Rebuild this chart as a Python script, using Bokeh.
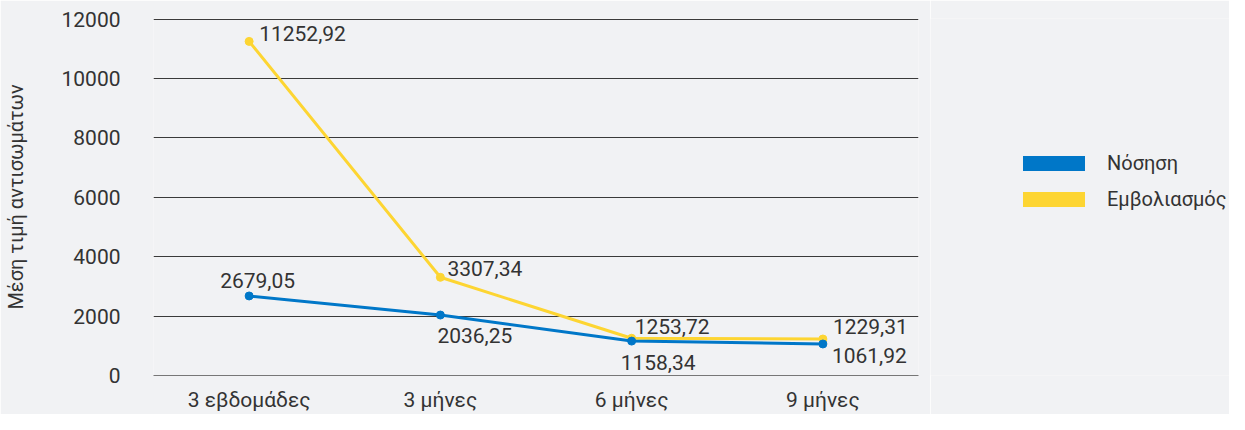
from bokeh.plotting import figure
from bokeh.layouts import row
from bokeh.models import ColumnDataSource, Range1d, FixedTicker, Legend, LegendItem
from bokeh.core.properties import value
from bokeh.embed import file_html
from bokeh.resources import INLINE

categories = ["3 εβδομάδες", "3 μήνες", "6 μήνες", "9 μήνες"]
nosisi = [2679.05, 2036.25, 1158.34, 1061.92]
emvoliasmos = [11252.92, 3307.34, 1253.72, 1229.31]
series_names = ["Νόσηση", "Εμβολιασμός"]
y_ticks = [0, 2000, 4000, 6000, 8000, 10000, 12000]

# label placement (screen px), kept separate from the data
vacc_dx = [10, 7, 3, 10]
vacc_dy = [-8, -9, -12, -13]
dis_dx = [-29, -3, -11, 9]
dis_dy = [-15, 20, 21, 12]

BLUE = "#0077c8"
YELLOW = "#fdd532"
BG = "#f1f2f4"
TXT = "#333333"
FONT = "Roboto"
H = 414


def fmt(v):
    return f"{v:.2f}".replace(".", ",")


p = figure(
    x_range=categories, y_range=Range1d(0, 12000 * 1.002),
    width=930, height=H, output_backend="svg", toolbar_location=None,
    min_border_left=153, min_border_right=12, min_border_top=18, min_border_bottom=38,
    background_fill_color=BG, border_fill_color=BG, outline_line_color=None,
)
p.x_range.range_padding = 0

src_v = ColumnDataSource(dict(x=categories, y=emvoliasmos,
                              t=[fmt(v) for v in emvoliasmos], dx=vacc_dx, dy=vacc_dy))
src_d = ColumnDataSource(dict(x=categories, y=nosisi,
                              t=[fmt(v) for v in nosisi], dx=dis_dx, dy=dis_dy))

p.line("x", "y", source=src_v, line_color=YELLOW, line_width=3)
p.scatter("x", "y", source=src_v, size=8, fill_color=YELLOW, line_color=YELLOW)
p.line("x", "y", source=src_d, line_color=BLUE, line_width=3)
p.scatter("x", "y", source=src_d, size=8, fill_color=BLUE, line_color=BLUE)

for src in (src_v, src_d):
    p.text("x", "y", text="t", source=src, x_offset="dx", y_offset="dy",
           text_align="left", text_baseline="middle", text_color=TXT,
           text_font=value(FONT), text_font_size="21px")

p.ygrid.ticker = FixedTicker(ticks=y_ticks[1:])
p.ygrid.grid_line_color = "#3a3a3a"
p.ygrid.grid_line_width = 1
p.xgrid.grid_line_color = None

p.yaxis.ticker = FixedTicker(ticks=y_ticks)
p.yaxis.axis_line_color = None
p.yaxis.major_tick_line_color = None
p.yaxis.minor_tick_line_color = None
p.yaxis.major_tick_out = 0
p.yaxis.major_label_standoff = 33
p.yaxis.axis_label = "Μέση τιμή αντισωμάτων"
p.yaxis.axis_label_standoff = 30
p.yaxis.axis_label_text_font_style = "normal"

p.xaxis.axis_line_color = "#777777"
p.xaxis.major_tick_line_color = None
p.xaxis.minor_tick_line_color = None
p.xaxis.major_tick_out = 0
p.xaxis.axis_label_standoff = 0
p.xaxis.major_label_standoff = 12

for ax in (p.xaxis[0], p.yaxis[0]):
    ax.major_label_text_font = FONT
    ax.major_label_text_font_size = "21px"
    ax.major_label_text_color = TXT
    ax.axis_label_text_font = FONT
    ax.axis_label_text_font_size = "20px"
    ax.axis_label_text_color = TXT

# legend panel to the right (its frame is aligned with the main frame)
p2 = figure(
    x_range=Range1d(0, 1), y_range=Range1d(0, 1),
    width=299, height=H, output_backend="svg", toolbar_location=None,
    min_border_left=0, min_border_right=0, min_border_top=18, min_border_bottom=38,
    background_fill_color=BG, border_fill_color=BG, outline_line_color=None,
)
p2.axis.visible = False
p2.grid.grid_line_color = None
# legend proxies: placed outside the visible range so only the legend swatch shows
leg_d = p2.line(x=[-5, -4], y=[-5, -5], line_color=BLUE, line_width=15, line_cap="round")
leg_v = p2.line(x=[-5, -4], y=[-5, -5], line_color=YELLOW, line_width=15, line_cap="round")
legend = Legend(
    items=[LegendItem(label=series_names[0], renderers=[leg_d]),
           LegendItem(label=series_names[1], renderers=[leg_v])],
    location=(93, 164), orientation="vertical",
    glyph_width=62, glyph_height=22, label_height=22, spacing=12,
    padding=0, margin=0, label_standoff=22,
    border_line_color=None, background_fill_alpha=0,
    label_text_font=FONT, label_text_font_size="20px", label_text_color=TXT,
)
p2.add_layout(legend, "center")

layout = row(p, p2, spacing=0)
open("out.html", "w").write(file_html(layout, INLINE))
